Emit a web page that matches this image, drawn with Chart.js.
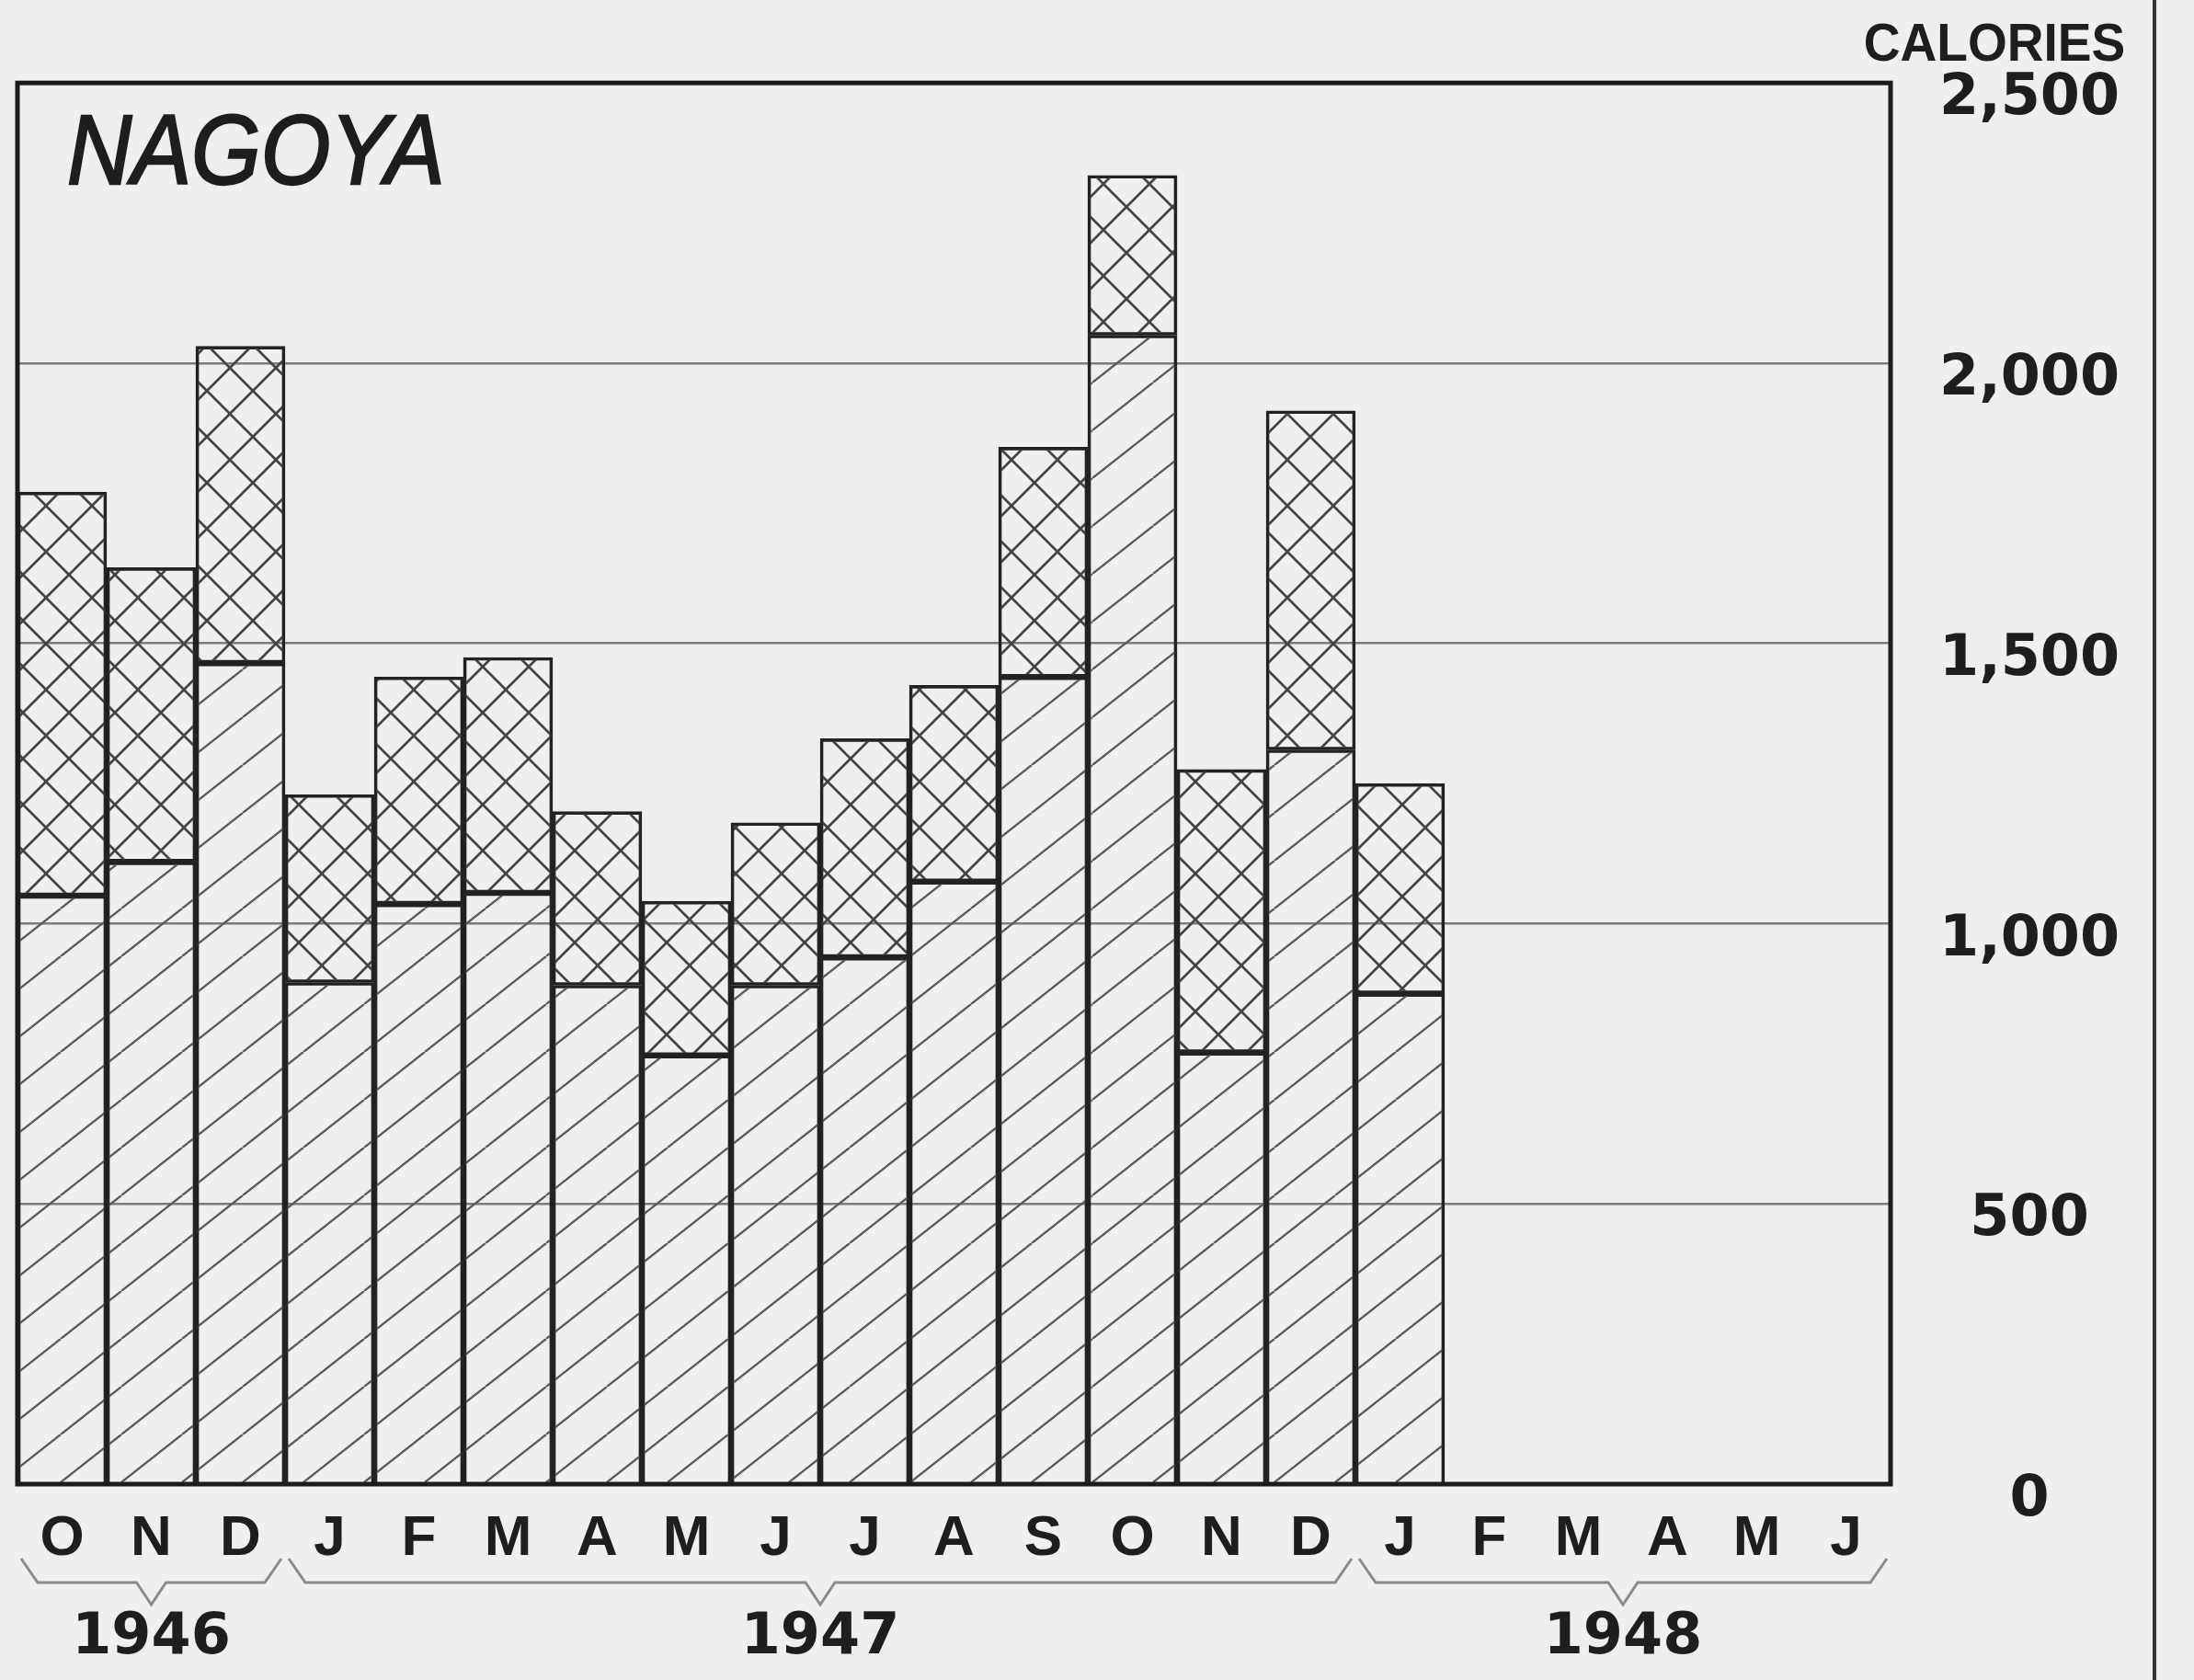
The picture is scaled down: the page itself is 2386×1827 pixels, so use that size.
<!DOCTYPE html>
<html>
<head>
<meta charset="utf-8">
<title>Nagoya calories</title>
<script src="https://cdn.jsdelivr.net/npm/chart.js@4.4.1/dist/chart.umd.min.js"></script>
<style>
  html, body { margin: 0; padding: 0; background: #efefef; }
  #wrap { width: 2386px; height: 1827px; }
</style>
</head>
<body>
<div id="wrap"><canvas id="chart" width="2386" height="1827"></canvas></div>
<script>
// month slots, Oct 1946 .. Jun 1948
const months = ['O', 'N', 'D', 'J', 'F', 'M', 'A', 'M', 'J', 'J', 'A', 'S', 'O', 'N', 'D', 'J', 'F', 'M', 'A', 'M', 'J'];
const years = ['1946', '1947', '1948'];
const yearFirst = [0, 3, 15];
const yearLast = [2, 14, 20];

// calories (Oct 1946 .. Jan 1948)
const lowerPart = [1050, 1110, 1465, 895, 1035, 1055, 890, 765, 890, 940, 1075, 1440, 2050, 770, 1310, 875];
const upperPart = [720, 525, 565, 335, 405, 420, 310, 275, 290, 390, 350, 410, 285, 505, 605, 375];
const yTicks = [0, 500, 1000, 1500, 2000, 2500];

const canvas = document.getElementById('chart');
const ctx = canvas.getContext('2d');

// hatch tiles: single '/' or cross 'X'
function hatch(w, h, cross, color, lw) {
  const c = document.createElement('canvas');
  c.width = w;
  c.height = h;
  const g = c.getContext('2d');
  g.strokeStyle = color;
  g.lineWidth = lw;
  g.beginPath();
  for (const dx of [-w, 0, w]) {
    g.moveTo(dx, h);
    g.lineTo(dx + w, 0);
    if (cross) {
      g.moveTo(dx, 0);
      g.lineTo(dx + w, h);
    }
  }
  g.stroke();
  return ctx.createPattern(c, 'repeat');
}

const diagFill = hatch(66, 52, false, '#5a5a5a', 2.3);
const crossFill = hatch(50, 50, true, '#444', 2.7);

const numFont = '"DejaVu Sans", sans-serif';
const txtFont = '"Liberation Sans", Arial, sans-serif';
const ink = '#1e1e1e';

const decor = {
  id: 'decor',
  beforeDraw(chart) {
    const g = chart.ctx;
    g.save();
    g.fillStyle = '#efefef';
    g.fillRect(0, 0, chart.width, chart.height);
    g.restore();
  },
  afterDatasetsDraw(chart) {
    const g = chart.ctx;
    const a = chart.chartArea;
    const xs = chart.scales.x;
    g.save();

    // frame
    g.strokeStyle = '#1c1c1c';
    g.lineWidth = 5;
    g.strokeRect(a.left, a.top, a.right - a.left, a.bottom - a.top);

    // city name
    g.fillStyle = ink;
    g.strokeStyle = ink;
    g.save();
    g.translate(a.left + 54, a.top + 110);
    g.scale(0.9, 1);
    g.font = 'italic 108px ' + txtFont;
    g.textAlign = 'left';
    g.textBaseline = 'alphabetic';
    g.lineWidth = 2.5;
    g.fillText('NAGOYA', 0, 0);
    g.strokeText('NAGOYA', 0, 0);
    g.restore();

    // unit label over the axis
    g.save();
    g.translate(2169, 50);
    g.scale(0.95, 1);
    g.font = 'bold 58px ' + txtFont;
    g.textAlign = 'center';
    g.textBaseline = 'middle';
    g.fillText('CALORIES', 0, 0);
    g.restore();

    // year braces
    const slot = (xs.right - xs.left) / months.length;
    g.strokeStyle = '#8c8c8c';
    g.lineWidth = 3;
    g.font = 'bold 62px ' + numFont;
    g.textAlign = 'center';
    g.textBaseline = 'middle';
    years.forEach((yr, i) => {
      const x1 = xs.getPixelForValue(yearFirst[i]) - slot / 2 + 4;
      const x2 = xs.getPixelForValue(yearLast[i]) + slot / 2 - 4;
      const xm = (x1 + x2) / 2;
      const yb = a.bottom + 107;
      g.beginPath();
      g.moveTo(x1, yb - 26);
      g.lineTo(x1 + 18, yb);
      g.lineTo(xm - 16, yb);
      g.lineTo(xm, yb + 24);
      g.lineTo(xm + 16, yb);
      g.lineTo(x2 - 18, yb);
      g.lineTo(x2, yb - 26);
      g.stroke();
      g.fillText(yr, xm, a.bottom + 168);
    });

    // page edge at the right
    g.strokeStyle = '#333';
    g.lineWidth = 4;
    g.beginPath();
    g.moveTo(2343, 0);
    g.lineTo(2343, chart.height);
    g.stroke();

    g.restore();
  }
};

new Chart(ctx, {
  type: 'bar',
  data: {
    labels: months,
    datasets: [
      {
        data: lowerPart,
        backgroundColor: diagFill,
        borderColor: '#222',
        borderWidth: 3,
        borderSkipped: 'start',
        categoryPercentage: 1,
        barPercentage: 1
      },
      {
        data: upperPart,
        backgroundColor: crossFill,
        borderColor: '#222',
        borderWidth: 3,
        borderSkipped: false,
        categoryPercentage: 1,
        barPercentage: 1
      }
    ]
  },
  options: {
    responsive: false,
    animation: false,
    devicePixelRatio: 1,
    layout: { padding: { left: 19, top: 90, right: 0, bottom: 0 } },
    plugins: { legend: { display: false }, tooltip: { enabled: false } },
    scales: {
      x: {
        stacked: true,
        grid: { display: false, drawTicks: false },
        border: { display: false },
        ticks: {
          padding: 23,
          autoSkip: false,
          maxRotation: 0,
          color: ink,
          font: { family: txtFont, weight: 'bold', size: 62 }
        },
        afterFit: s => { s.height = 213; }
      },
      y: {
        stacked: true,
        position: 'right',
        min: 0,
        max: 2500,
        afterBuildTicks: s => { s.ticks = yTicks.map(v => ({ value: v })); },
        grid: { color: '#7c7c7c', lineWidth: 2.5, drawTicks: false },
        border: { display: false },
        ticks: {
          padding: 53,
          labelOffset: 18,
          crossAlign: 'center',
          color: ink,
          font: { family: numFont, weight: 'bold', size: 62 },
          callback: v => v.toLocaleString('en-US')
        },
        afterFit: s => { s.width = 330; }
      }
    }
  },
  plugins: [decor]
});
</script>
</body>
</html>
